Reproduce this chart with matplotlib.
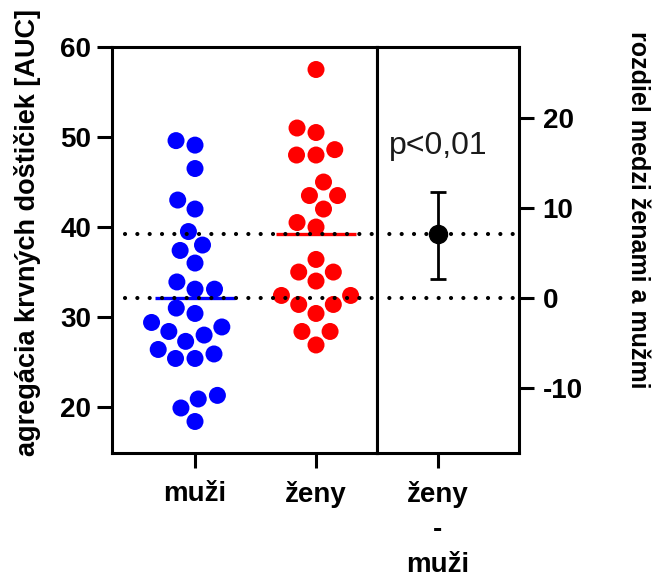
import numpy as np
import matplotlib

matplotlib.use("Agg")
import matplotlib.pyplot as plt

plt.rcParams["font.family"] = ["Liberation Sans", "DejaVu Sans"]
plt.rcParams["axes.unicode_minus"] = False

# platelet aggregation [AUC] per subject
muzi = [49.1, 49.6, 46.5, 43.0, 42.0, 39.5, 38.0, 37.4, 36.0, 33.9, 33.1, 33.1,
        31.0, 30.4, 29.4, 28.9, 28.4, 28.0, 27.3, 26.4, 25.4, 25.9, 25.4, 21.3,
        20.9, 19.9, 18.4]
zeny = [57.5, 51.0, 50.5, 48.0, 48.0, 48.6, 45.0, 43.5, 43.5, 42.0, 40.0, 40.5,
        36.4, 35.0, 35.0, 34.0, 32.4, 32.4, 31.4, 31.4, 30.4, 28.4, 28.4, 26.9]
groups = ["muži", "ženy"]
diff_label = "ženy\n-\nmuži"
diff_ci = [2.1, 11.7]
p_text = "p<0,01"
left_ticks = [20, 30, 40, 50, 60]
right_ticks = [-10, 0, 10, 20]

LW = 2.2
DOT = 17.0  # marker diameter in pixels
GAP = 19.5  # spacing used when laying out the swarm


def swarm_offsets(y_px, diameter):
    """Horizontal pixel offsets so that no two markers overlap."""
    order = np.argsort(y_px)
    xs = np.zeros(len(y_px))
    placed = []
    for i in order:
        y = y_px[i]
        cands = [0.0]
        for px, py in placed:
            dy = abs(y - py)
            if dy < diameter:
                dx = np.sqrt(diameter ** 2 - dy ** 2)
                cands += [px - dx, px + dx]
        cands.sort(key=abs)
        for c in cands:
            if all((c - px) ** 2 + (y - py) ** 2 >= diameter ** 2 - 1e-6
                   for px, py in placed):
                xs[i] = c
                break
        placed.append((xs[i], y))
    return xs


def style_axes(ax):
    for sp in ax.spines.values():
        sp.set_linewidth(LW)
    ax.tick_params(width=LW, length=11, labelsize=20, direction="out")
    for lab in ax.get_xticklabels() + ax.get_yticklabels():
        lab.set_fontweight("bold")


fig = plt.figure(figsize=(6.55, 5.83), dpi=100)
W, H = 655, 583
ax = fig.add_axes([112 / W, (H - 453) / H, 265 / W, 406 / H])
ax2 = fig.add_axes([377 / W, (H - 453) / H, 142 / W, 406 / H])

mean_m = float(np.mean(muzi))
mean_z = float(np.mean(zeny))
diff = mean_z - mean_m

ylo, yhi = 14.9, 60.0
ax.set_ylim(ylo, yhi)
ax.set_xlim(0.314, 2.504)
ax2.set_ylim(ylo - mean_m, yhi - mean_m)
ax2.set_xlim(-0.504, 0.67)

ax.set_xticks([1, 2])
ax.set_xticklabels(groups)
ax.set_yticks(left_ticks)
ax.tick_params(axis="y", pad=4)
ax.tick_params(axis="x", pad=9)

ax2.set_xticks([0])
ax2.set_xticklabels([diff_label], linespacing=1.45)
ax2.yaxis.tick_right()
ax2.set_yticks(right_ticks)
ax2.tick_params(axis="y", pad=6)
ax2.tick_params(axis="x", pad=9)

style_axes(ax)
style_axes(ax2)

# swarm layout in pixel space
x0 = ax.transData.transform((0, 0))
x1 = ax.transData.transform((1, 1))
px_per_x = x1[0] - x0[0]
px_per_y = x1[1] - x0[1]

for pos, vals, col in [(1, muzi, "#0000ff"), (2, zeny, "#ff0000")]:
    vals = np.asarray(vals)
    offs = swarm_offsets(vals * px_per_y, GAP) / px_per_x
    ax.scatter(pos + offs, vals, s=(DOT * 72 / 100) ** 2, color=col,
               edgecolors="none", zorder=3, clip_on=False)
    m = vals.mean()
    ax.plot([pos - 0.33, pos + 0.33], [m, m], color=col, lw=2.4, zorder=4,
            solid_capstyle="butt")

dotted = dict(color="black", lw=3.0, linestyle=(0, (0.01, 2.95)),
              dash_capstyle="round", zorder=5)
ax.plot([0.42, 2.504], [mean_m, mean_m], **dotted)
ax.plot([0.42, 2.504], [mean_z, mean_z], **dotted)
ax2.axhline(0, **dotted)
ax2.axhline(diff, **dotted)

ax2.errorbar([0], [diff], yerr=[[diff - diff_ci[0]], [diff_ci[1] - diff]],
             fmt="o", color="black", ms=13, elinewidth=2.0, capsize=6,
             capthick=2.0, zorder=6)
ax2.text(0, 16.0, p_text, ha="center", va="baseline", fontsize=23,
         color="#1a1a1a")

fig.text(28 / W, (H - 232) / H, "agregácia krvných doštičiek [AUC]",
         rotation=90, ha="center", va="center", fontsize=19.5,
         fontweight="bold")
fig.text(638 / W, (H - 210) / H, "rozdiel medzi ženami a mužmi",
         rotation=270, ha="center", va="center", fontsize=18,
         fontweight="bold")

fig.savefig("out.png", dpi=100)
